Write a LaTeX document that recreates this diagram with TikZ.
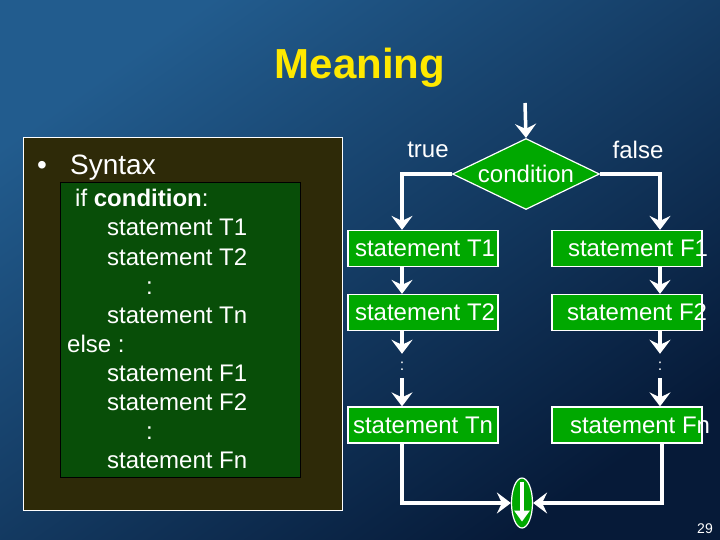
\documentclass[tikz,border=0pt]{standalone}
\usepackage{fontspec}
\setmainfont{Liberation Sans}
\usetikzlibrary{shapes,arrows.meta,positioning,calc}

\definecolor{slidelight}{RGB}{34,92,142}
\definecolor{slidedark}{RGB}{6,26,56}
\definecolor{panelbrown}{RGB}{46,42,8}
\definecolor{codegreen}{RGB}{8,78,8}
\definecolor{boxgreen}{RGB}{0,168,0}
\definecolor{titleyellow}{RGB}{255,232,0}

\newcommand{\boxlabel}[2]{\makebox[150pt][l]{\hspace*{#1}#2}}

\begin{document}
\begin{tikzpicture}[x=1pt,y=-1pt,
	flow/.style={white, line width=3.5pt, -{Stealth[length=14pt,width=21pt,inset=5pt]}},
	stmt/.style={draw=white, line width=1.2pt, fill=boxgreen, text=white, font=\fontsize{24}{28}\selectfont, minimum height=36pt, inner sep=0pt},
	code/.style={text=white, font=\fontsize{24}{28}\selectfont, anchor=base west, inner sep=0pt}]
	\useasboundingbox (0,0) rectangle (720,540);
	\shade[top color=slidelight, bottom color=slidedark, shading angle=35] (0,0) rectangle (720,540);
	% title
	\node[titleyellow, font=\fontsize{42}{48}\selectfont\bfseries] (title) at (360,68) {Meaning};
	% syntax panel
	\draw[white, fill=panelbrown] (23,137) rectangle (342,510);
	\draw[black, fill=codegreen] (60,182) rectangle (300,477);
	\node[code, font=\fontsize{28}{32}\selectfont] (bullet) at (37,175) {\textbullet};
	\node[code, font=\fontsize{28}{32}\selectfont] (syntax) at (70,175) {Syntax};
	\node[code] (lif) at (75,207) {if \textbf{condition}:};
	\node[code] (lt1) at (107,236) {statement T1};
	\node[code] (lt2) at (107,265) {statement T2};
	\node[code] (ltd) at (146,294) {:};
	\node[code] (ltn) at (107,323) {statement Tn};
	\node[code] (lelse) at (67,352) {else :};
	\node[code] (lf1) at (107,381) {statement F1};
	\node[code] (lf2) at (107,410) {statement F2};
	\node[code] (lfd) at (146,439) {:};
	\node[code] (lfn) at (107,468) {statement Fn};
	% flowchart
	\coordinate (start) at (525,103);
	\node[diamond, aspect=2, draw=white, line width=1.2pt, fill=boxgreen, text=white, minimum width=147pt, minimum height=71pt, inner sep=0pt, font=\fontsize{24}{28}\selectfont] (cond) at (526,174) {condition};
	\node[text=white, font=\fontsize{24}{28}\selectfont] (true) at (428,150) {true};
	\node[text=white, font=\fontsize{24}{28}\selectfont] (false) at (638,150) {false};
	\node[stmt] (T1) at (423,248.5) {\boxlabel{7pt}{statement T1}};
	\node[stmt] (T2) at (423,312.5) {\boxlabel{7pt}{statement T2}};
	\node[stmt] (Tn) at (423,425) {\boxlabel{5pt}{statement Tn}};
	\node[stmt] (F1) at (627,248.5) {\boxlabel{16pt}{statement F1}};
	\node[stmt] (F2) at (627,312.5) {\boxlabel{15pt}{statement F2}};
	\node[stmt] (Fn) at (627,425) {\boxlabel{18pt}{statement Fn}};
	\node[text=white, font=\fontsize{16}{18}\selectfont, minimum height=24pt, inner sep=0pt] (dotT) at (402,366) {:};
	\node[text=white, font=\fontsize{16}{18}\selectfont, minimum height=24pt, inner sep=0pt] (dotF) at (660,366) {:};
	\node[ellipse, draw=white, line width=1.2pt, fill=boxgreen, minimum width=21pt, minimum height=50pt, inner sep=0pt] (join) at (522,503) {};

	\draw[flow] (start) -- (cond.north);
	\draw[flow] (cond.west) -| ([xshift=-21pt]T1.north);
	\draw[flow] (cond.east) -| ([xshift=33pt]F1.north);
	\draw[flow] ([xshift=-21pt]T1.south) -- ([xshift=-21pt]T2.north);
	\draw[flow] ([xshift=33pt]F1.south) -- ([xshift=33pt]F2.north);
	\draw[flow] ([xshift=-21pt]T2.south) -- (dotT.north);
	\draw[flow] ([xshift=33pt]F2.south) -- (dotF.north);
	\draw[flow] (dotT.south) -- ([xshift=-21pt]Tn.north);
	\draw[flow] (dotF.south) -- ([xshift=33pt]Fn.north);
	\draw[flow] ([xshift=-21pt]Tn.south) |- (join.west);
	\draw[flow] ([xshift=35pt]Fn.south) |- (join.east);
	\draw[white, line width=3.5pt, -{Triangle[length=11pt,width=15pt]}] ([yshift=-5pt]join.north) -- ([yshift=7pt]join.south);
	% page number
	\node[text=white, font=\fontsize{14}{16}\selectfont, anchor=base] (page) at (705,533) {29};
\end{tikzpicture}
\end{document}
